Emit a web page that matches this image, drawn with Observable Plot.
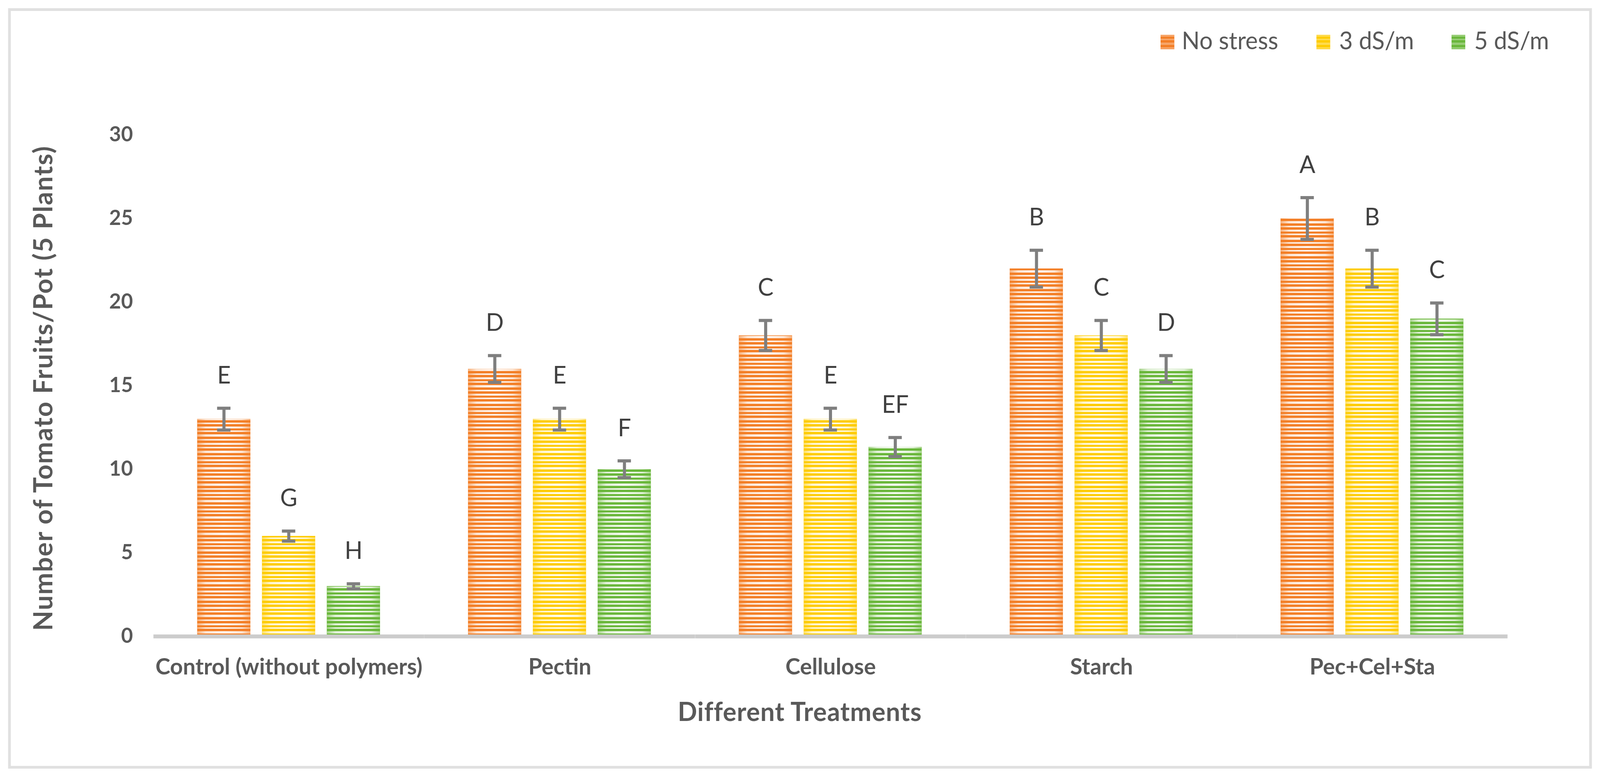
<!DOCTYPE html>
<html>
<head>
<meta charset="utf-8">
<script src="https://cdn.jsdelivr.net/npm/d3@7"></script>
<script src="https://cdn.jsdelivr.net/npm/@observablehq/plot@0.6"></script>
<style>
  html, body { margin: 0; padding: 0; background: #fff; overflow: hidden; }
  #root { position: relative; width: 4147px; height: 1992px; transform-origin: 0 0; font-family: Lato, "Open Sans", sans-serif; background: #fff; }
  #frame { position: absolute; left: 21px; top: 21px; width: 4105px; height: 1947px; box-sizing: border-box; border: 7px solid #e0e0e0; }
  #chart { position: absolute; left: 0; top: 0; }
  .title { position: absolute; white-space: nowrap; font-weight: 700; line-height: 1; color: #595959; }
  #xtitle { font-size: 66px; letter-spacing: 1px; left: 2073px; top: 1788px; transform: translateX(-50%); }
  #ytitle { font-size: 67px; letter-spacing: 2px; left: 110px; top: 994px; transform: translate(-50%, -50%) rotate(-90deg); }
  .leg-sw { position: absolute; top: 89px; width: 36px; height: 37px; }
  .leg-tx { position: absolute; top: 72px; font-size: 61px; line-height: 1; color: #595959; white-space: nowrap; }
</style>
</head>
<body>
<div id="root">
  <div id="frame"></div>
  <div id="chart"></div>
  <div id="xtitle" class="title">Different Treatments</div>
  <div id="ytitle" class="title">Number of Tomato Fruits/Pot (5 Plants)</div>
  <div id="legend"></div>
</div>
<script>
// ---- data ----
const groups = ["Control (without polymers)", "Pectin", "Cellulose", "Starch", "Pec+Cel+Sta"];
const series = ["No stress", "3 dS/m", "5 dS/m"];
const noStress = [13, 16, 18, 22, 25];
const ds3 = [6, 13, 13, 18, 22];
const ds5 = [3, 10, 11.33, 16, 19];
const errNoStress = [0.65, 0.8, 0.9, 1.1, 1.25];
const errDs3 = [0.3, 0.65, 0.65, 0.9, 1.1];
const errDs5 = [0.15, 0.5, 0.57, 0.8, 0.95];
const lettersNoStress = ["E", "D", "C", "B", "A"];
const lettersDs3 = ["G", "E", "E", "C", "B"];
const lettersDs5 = ["H", "F", "EF", "D", "C"];
const yTicks = [0, 5, 10, 15, 20, 25, 30];

// ---- styling / layout ----
const seriesColors = ["#f37f27", "#fecc02", "#6ab73b"];
const W = 4147, H = 1992;
const mL = 397, mR = 239, mT = 345, mB = 363;
const fxPadIn = 0.32, fxPadOut = 0.16, xPadIn = 0.176;
const fxStep = (W - mL - mR) / (groups.length - fxPadIn + 2 * fxPadOut);
const axisExt = fxStep * fxPadOut;
const facetBand = fxStep * (1 - fxPadIn);
const xStep = facetBand / (series.length - xPadIn);
const barW = xStep * (1 - xPadIn);
const capW = 36;
const capInset = (barW - capW) / 2;

// fit the 4147px-wide layout into the actual viewport width
const sx = Math.min(1, window.innerWidth / W);
document.getElementById("root").style.transform = `scale(${sx}, 1)`;

const valuesBySeries = [noStress, ds3, ds5];
const errBySeries = [errNoStress, errDs3, errDs5];
const lettersBySeries = [lettersNoStress, lettersDs3, lettersDs5];
const rows = groups.flatMap((g, i) => series.map((s, j) => ({
  group: g, series: s,
  value: valuesBySeries[j][i],
  err: errBySeries[j][i],
  letter: lettersBySeries[j][i]
})));

const chart = Plot.plot({
  width: W, height: H,
  marginLeft: mL, marginRight: mR, marginTop: mT, marginBottom: mB,
  style: {fontFamily: "Lato, 'Open Sans', sans-serif", color: "#595959", background: "transparent", overflow: "visible"},
  fx: {domain: groups, range: [mL, W - mR], paddingInner: fxPadIn, paddingOuter: fxPadOut, label: null},
  x: {domain: series, paddingInner: xPadIn, paddingOuter: 0, axis: null},
  y: {domain: [0, 30], label: null},
  color: {domain: series, range: seriesColors},
  marks: [
    Plot.barY(rows, {fx: "group", x: "series", y: "value", fill: "series"}),
    Plot.barY(rows, {fx: "group", x: "series", y: "value", fill: "url(#stripes)"}),
    Plot.ruleY([0], {stroke: "#cccccc", strokeWidth: 10, insetLeft: -axisExt, insetRight: -axisExt}),
    Plot.ruleX(rows, {fx: "group", x: "series", y1: d => d.value - d.err, y2: d => d.value + d.err, stroke: "#7f7f7f", strokeWidth: 8}),
    Plot.tickY(rows, {fx: "group", x: "series", y: d => d.value + d.err, stroke: "#7f7f7f", strokeWidth: 8, insetLeft: capInset, insetRight: capInset}),
    Plot.tickY(rows, {fx: "group", x: "series", y: d => d.value - d.err, stroke: "#7f7f7f", strokeWidth: 8, insetLeft: capInset, insetRight: capInset}),
    Plot.text(rows, {fx: "group", x: "series", y: d => d.value + d.err, text: "letter", dy: -83, fontSize: 61, fill: "#404040"}),
    Plot.axisY({ticks: yTicks, tickSize: 0, tickPadding: 166, fontSize: 53, fontWeight: "bold", label: null, tickFormat: d => String(d)}),
    Plot.axisFx({anchor: "bottom", tickSize: 0, tickPadding: 56, fontSize: 58, fontWeight: "bold", label: null})
  ]
});

const ns = "http://www.w3.org/2000/svg";
const defs = document.createElementNS(ns, "defs");
defs.innerHTML = `
  <pattern id="stripes" patternUnits="userSpaceOnUse" width="20" height="42">
    <rect x="0" y="0" width="20" height="5" fill="#fff"/>
    <rect x="0" y="10" width="20" height="4" fill="#fff"/>
    <rect x="0" y="20" width="20" height="6" fill="#fff"/>
    <rect x="0" y="32" width="20" height="4" fill="#fff"/>
  </pattern>
  <linearGradient id="fade" x1="0" x2="1" y1="0" y2="0">
    <stop offset="0" stop-color="rgb(100,100,100)"/>
    <stop offset="0.16" stop-color="rgb(205,205,205)"/>
    <stop offset="0.5" stop-color="rgb(238,238,238)"/>
    <stop offset="0.84" stop-color="rgb(205,205,205)"/>
    <stop offset="1" stop-color="rgb(100,100,100)"/>
  </linearGradient>
  <mask id="fadeMask" maskContentUnits="objectBoundingBox">
    <rect x="0" y="0" width="1" height="1" fill="url(#fade)"/>
  </mask>`;
chart.prepend(defs);
chart.querySelectorAll('g[fill="url(#stripes)"] rect').forEach(r => r.setAttribute("mask", "url(#fadeMask)"));
document.getElementById("chart").appendChild(chart);

// legend
const legSwatchX = [3008, 3412, 3762];
const legTextX = [3063, 3471, 3821];
const legend = document.getElementById("legend");
series.forEach((s, j) => {
  const sw = document.createElement("div");
  sw.className = "leg-sw";
  sw.style.left = legSwatchX[j] + "px";
  sw.innerHTML = `<svg width="36" height="37"><rect width="36" height="37" fill="${seriesColors[j]}"/><rect width="36" height="37" fill="url(#stripes)" opacity="0.3"/></svg>`;
  legend.appendChild(sw);
  const tx = document.createElement("div");
  tx.className = "leg-tx";
  tx.style.left = legTextX[j] + "px";
  tx.textContent = s;
  legend.appendChild(tx);
});
</script>
</body>
</html>
